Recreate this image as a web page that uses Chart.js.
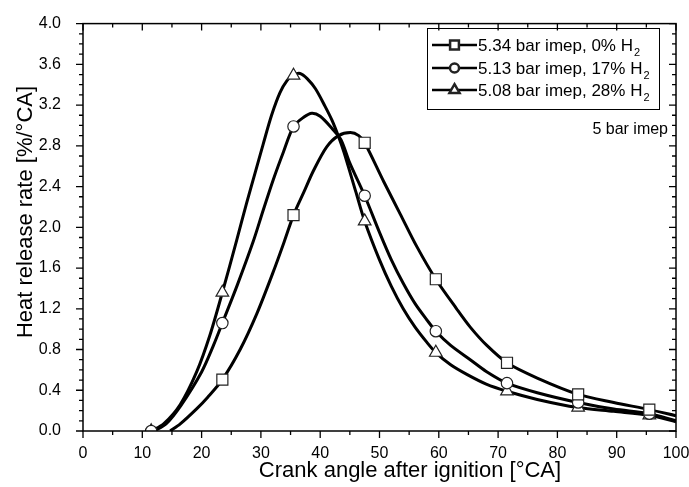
<!DOCTYPE html>
<html><head><meta charset="utf-8">
<script src="https://cdn.jsdelivr.net/npm/chart.js@4/dist/chart.umd.min.js"></script>
<style>html,body{margin:0;padding:0;background:#fff}#wrap{width:689px;height:487px;position:relative}</style>
</head><body><div id="wrap"><canvas id="c"></canvas></div>
<script>
// ---- data ----
const seriesLabels = ['5.34 bar imep, 0% H\u2082', '5.13 bar imep, 17% H\u2082', '5.08 bar imep, 28% H\u2082'];

// continuous curves (crank angle, heat release rate)
const sqX = [14.7, 16.4, 19.2, 21, 23.5, 26.5, 29.3, 32, 34, 35.5, 37.2, 38.9, 41.1, 43.1, 45.1, 46.5, 47.5, 50.7, 53.5, 56.3, 59.5, 63, 65.3, 68.1, 71.5, 76.6, 83.5, 89.5, 95.5, 100];
const sqY = [0, 0.07, 0.22, 0.33, 0.505, 0.80, 1.15, 1.55, 1.87, 2.12, 2.34, 2.56, 2.79, 2.90, 2.93, 2.90, 2.83, 2.45, 2.13, 1.81, 1.49, 1.20, 1.02, 0.84, 0.67, 0.52, 0.36, 0.28, 0.21, 0.15];

const ciX = [12, 14, 16.5, 20, 22, 23.5, 26, 28.7, 30.4, 32.1, 33.8, 35.5, 37.2, 38.6, 40, 42, 43.5, 45, 47.5, 50, 52, 54, 56, 58, 59.5, 62, 65.3, 68, 71.5, 76.6, 83.5, 89.5, 95.5, 100];
const ciY = [0, 0.07, 0.25, 0.58, 0.84, 1.06, 1.43, 1.86, 2.17, 2.47, 2.74, 2.99, 3.08, 3.12, 3.09, 2.97, 2.86, 2.63, 2.31, 1.95, 1.68, 1.45, 1.25, 1.09, 0.98, 0.84, 0.70, 0.585, 0.47, 0.376, 0.28, 0.215, 0.17, 0.10];

const trX = [11.5, 13.6, 16.4, 19.2, 21.4, 23.5, 25.9, 27.6, 29, 30.4, 31.8, 33.2, 34.4, 35.5, 36.6, 37.8, 39.2, 40.8, 42, 43.1, 44, 46, 47.5, 50, 52, 54, 56, 58, 59.5, 62, 64.8, 68, 71.5, 76.6, 83.5, 89.5, 95.5, 100];
const trY = [0, 0.07, 0.26, 0.585, 0.94, 1.36, 1.87, 2.24, 2.53, 2.82, 3.10, 3.32, 3.44, 3.495, 3.51, 3.46, 3.36, 3.19, 3.05, 2.89, 2.74, 2.35, 2.06, 1.68, 1.42, 1.20, 1.02, 0.87, 0.77, 0.65, 0.553, 0.46, 0.39, 0.31, 0.23, 0.193, 0.155, 0.09];

// symbols
const markerX   = [11.5, 23.5, 35.5, 47.5, 59.5, 71.5, 83.5, 95.5];
const sqMarkers = [null, 0.505, 2.12, 2.83, 1.49, 0.67, 0.36, 0.21];
const ciMarkers = [0, 1.06, 2.99, 2.31, 0.98, 0.47, 0.28, 0.17];
const trMarkers = [0, 1.36, 3.49, 2.06, 0.77, 0.39, 0.23, 0.155];

const xTickValues = [0, 10, 20, 30, 40, 50, 60, 70, 80, 90, 100];
const yTickValues = [0, 0.4, 0.8, 1.2, 1.6, 2.0, 2.4, 2.8, 3.2, 3.6, 4.0];
const yTickLabels = ['0.0', '0.4', '0.8', '1.2', '1.6', '2.0', '2.4', '2.8', '3.2', '3.6', '4.0'];
const xTitle = 'Crank angle after ignition [\u00B0CA]';
const yTitle = 'Heat release rate [%/\u00B0CA]';
const noteText = '5 bar imep';

// ---- chart ----
const FONT = '"Liberation Sans", Arial, Helvetica, sans-serif';
const styles = ['rect', 'circle', 'triangle'];
const radii = [7.8, 5.7, 7.3];

function pts(xs, ys) { return xs.map((x, i) => ({x: x, y: ys[i]})).filter(p => p.y !== null); }

function lineDs(label, xs, ys) {
  return {label: label, data: pts(xs, ys), borderColor: '#000', borderWidth: 3, pointRadius: 0,
    tension: 0.3, fill: false, order: 2};
}
function markDs(label, ys, k) {
  return {label: label, data: pts(markerX, ys), showLine: false, pointStyle: styles[k], pointRadius: radii[k],
    pointBackgroundColor: '#fff', pointBorderColor: '#222', pointBorderWidth: 1.2, order: 1};
}

const decor = {
  id: 'decor',
  afterDraw(chart) {
    const ctx = chart.ctx, a = chart.chartArea, xs = chart.scales.x, ys = chart.scales.y;
    ctx.save();
    ctx.strokeStyle = '#000';
    ctx.lineWidth = 1.5;
    ctx.strokeRect(a.left, a.top, a.right - a.left, a.bottom - a.top);
    ctx.lineWidth = 1.3;
    ctx.beginPath();
    for (let i = 0; i <= 20; i++) {
      const px = xs.getPixelForValue(i * 5);
      const L = i % 2 === 0 ? 7 : 4;
      ctx.moveTo(px, a.bottom); ctx.lineTo(px, a.bottom + L);
      ctx.moveTo(px, a.top); ctx.lineTo(px, a.top + L);
    }
    for (let i = 0; i <= 40; i++) {
      const py = ys.getPixelForValue(i / 10);
      const L = i % 4 === 0 ? 7 : 4;
      ctx.moveTo(a.left - L, py); ctx.lineTo(a.left, py);
      ctx.moveTo(a.right - L, py); ctx.lineTo(a.right, py);
    }
    ctx.stroke();

    // axis titles
    ctx.fillStyle = '#000';
    ctx.font = '22px ' + FONT;
    ctx.textAlign = 'center';
    ctx.textBaseline = 'alphabetic';
    ctx.fillText(xTitle, 410, 477);
    ctx.save();
    ctx.translate(32, 212);
    ctx.rotate(-Math.PI / 2);
    ctx.fillText(yTitle, 0, 0);
    ctx.restore();

    // note
    ctx.font = '16px ' + FONT;
    ctx.textAlign = 'right';
    ctx.fillText(noteText, 668, 134);

    // legend
    ctx.lineWidth = 1;
    ctx.strokeRect(427.5, 28.5, 232, 81);
    const rows = [45, 68, 90];
    seriesLabels.forEach((lab, k) => {
      const ry = rows[k];
      ctx.lineWidth = 2.5;
      ctx.strokeStyle = '#000';
      ctx.beginPath(); ctx.moveTo(432, ry); ctx.lineTo(477, ry); ctx.stroke();
      ctx.fillStyle = '#fff';
      ctx.strokeStyle = '#222';
      Chart.helpers.drawPoint(ctx, {pointStyle: styles[k], radius: radii[k] * 0.8, borderWidth: 1.2, rotation: 0}, 454.5, ry);
      ctx.fillStyle = '#000';
      ctx.textAlign = 'left';
      let main = lab, sub = '';
      if (lab.endsWith('\u2082')) { main = lab.slice(0, -1); sub = '2'; }
      ctx.font = '17px ' + FONT;
      ctx.fillText(main, 478, ry + 6);
      const w = ctx.measureText(main).width;
      if (sub) { ctx.font = '11px ' + FONT; ctx.fillText(sub, 478 + w + 1, ry + 11); }
    });
    ctx.restore();
  }
};

new Chart(document.getElementById('c'), {
  type: 'line',
  data: {
    datasets: [
      markDs(seriesLabels[0], sqMarkers, 0),
      markDs(seriesLabels[1], ciMarkers, 1),
      markDs(seriesLabels[2], trMarkers, 2),
      lineDs(seriesLabels[0], sqX, sqY),
      lineDs(seriesLabels[1], ciX, ciY),
      lineDs(seriesLabels[2], trX, trY)
    ]
  },
  options: {
    responsive: true,
    maintainAspectRatio: false,
    animation: false,
    layout: {padding: {left: 0, right: 0, top: 16, bottom: 0}},
    plugins: {legend: {display: false}, tooltip: {enabled: false}},
    scales: {
      x: {
        type: 'linear', min: 0, max: 100,
        grid: {display: false}, border: {display: false},
        afterBuildTicks(s) { s.ticks = xTickValues.map(v => ({value: v})); },
        afterFit(s) { s.height = 56; s.paddingRight = 13; s.paddingLeft = 0; },
        ticks: {font: {size: 16, family: FONT}, color: '#000', padding: 5, maxRotation: 0, autoSkip: false,
          callback: v => String(v)}
      },
      y: {
        type: 'linear', min: 0, max: 4,
        grid: {display: false}, border: {display: false},
        afterBuildTicks(s) { s.ticks = yTickValues.map(v => ({value: v})); },
        afterFit(s) { s.width = 83; },
        ticks: {font: {size: 16, family: FONT}, color: '#000', padding: 14, autoSkip: false,
          callback: (v, i) => yTickLabels[i]}
      }
    }
  },
  plugins: [decor]
});
</script>
</body></html>
